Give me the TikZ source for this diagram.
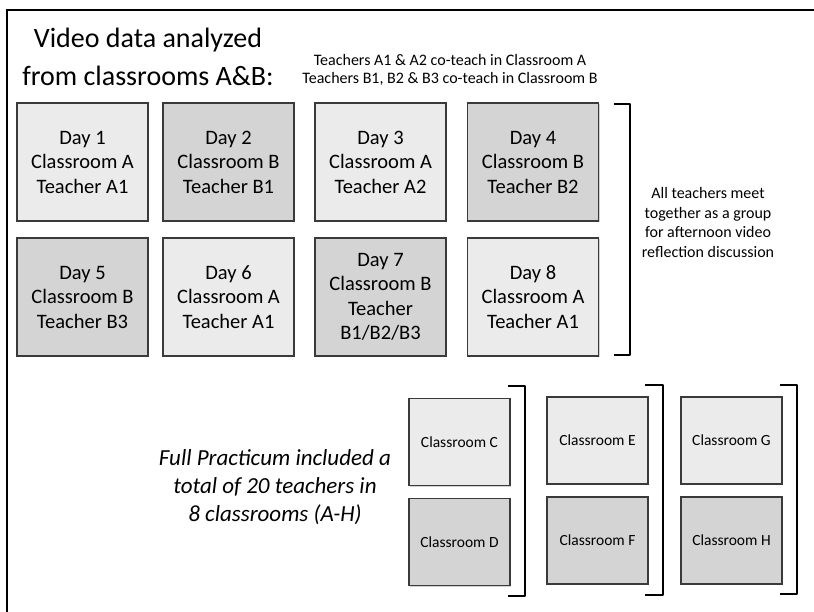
\documentclass[tikz,border=0pt]{standalone}
\usepackage{fontspec}
\setmainfont{Carlito}
\usetikzlibrary{calc}
\usetikzlibrary{shadows}

\definecolor{lightbox}{HTML}{EBEBEB}
\definecolor{darkbox}{HTML}{D4D4D4}
\definecolor{boxline}{HTML}{3A3A3A}

\begin{document}
\begin{tikzpicture}[x=1pt, y=-1pt,
      daybox/.style={draw=boxline, line width=1.4pt, inner sep=0pt,
        minimum width=131pt, minimum height=118pt, align=center,
        font=\fontsize{20.5}{24.5}\selectfont,
        drop shadow={shadow xshift=1.2pt, shadow yshift=-1.2pt, opacity=0.35}},
      roombox/.style={daybox, minimum width=101pt, minimum height=87pt,
        font=\fontsize{15.5}{18}\selectfont},
      light/.style={fill=lightbox},
      dark/.style={fill=darkbox},
      bracket/.style={line width=2.6pt, line join=round},
      frame line/.style={line width=2.5pt},
      title text/.style={align=center, inner sep=0pt, font=\fontsize{28}{38}\selectfont},
      note text/.style={align=center, inner sep=0pt, font=\fontsize{16}{17.5}\selectfont},
      side text/.style={align=center, inner sep=0pt, font=\fontsize{16}{19.5}\selectfont},
      summary text/.style={align=center, inner sep=0pt, font=\fontsize{23}{28}\selectfont\itshape}
      ]
      \useasboundingbox (0,0) rectangle (814,611);
      \fill[white] (0,0) rectangle (814,611);

      % frame
      \draw[frame line] (7,614) -- (7,10) -- (818,10);

      % headings (base = last line)
      \node[title text, anchor=base] (title) at (148,85) {Video data analyzed\\from classrooms A\&B:};
      \node[note text, anchor=base] (coteach) at (450,83) {Teachers A1 \& A2 co-teach in Classroom A\\Teachers B1, B2 \& B3 co-teach in Classroom B};

      % days in classrooms A and B
      \node[daybox, light] (day1) at (82.5,162) {Day 1\\Classroom A\\Teacher A1};
      \node[daybox, dark]  (day2) at (228.5,162) {Day 2\\Classroom B\\Teacher B1};
      \node[daybox, light] (day3) at (380.5,162) {Day 3\\Classroom A\\Teacher A2};
      \node[daybox, dark]  (day4) at (533,162) {Day 4\\Classroom B\\Teacher B2};
      \node[daybox, dark]  (day5) at (82.5,297) {Day 5\\Classroom B\\Teacher B3};
      \node[daybox, light] (day6) at (228.5,297) {Day 6\\Classroom A\\Teacher A1};
      \node[daybox, dark]  (day7) at (380.5,297) {Day 7\\Classroom B\\Teacher\\B1/B2/B3};
      \node[daybox, light] (day8) at (533,297) {Day 8\\Classroom A\\Teacher A1};

      \draw[bracket] (614,104) -- (630,104) -- (630,355) -- (614,355);
      \node[side text, anchor=base] (meet) at (708,257) {All teachers meet\\together as a group\\for afternoon video\\reflection discussion};

      % remaining classrooms
      \node[summary text, anchor=base] (practicum) at (275,521) {Full Practicum included a\\total of 20 teachers in\\8 classrooms (A-H)};

      \node[roombox, light] (roomC) at (459.5,442) {Classroom C};
      \node[roombox, dark]  (roomD) at (459.5,542) {Classroom D};
      \node[roombox, light] (roomE) at (597.5,440.5) {Classroom E};
      \node[roombox, dark]  (roomF) at (597.5,540.5) {Classroom F};
      \node[roombox, light] (roomG) at (731.5,440.5) {Classroom G};
      \node[roombox, dark]  (roomH) at (731.5,540.5) {Classroom H};

      \draw[bracket] (508,386) -- (525,386) -- (525,596) -- (508,596);
      \draw[bracket] (645,385) -- (663,385) -- (663,595) -- (645,595);
      \draw[bracket] (780,385) -- (797,385) -- (797,594) -- (780,594);
\end{tikzpicture}
\end{document}
